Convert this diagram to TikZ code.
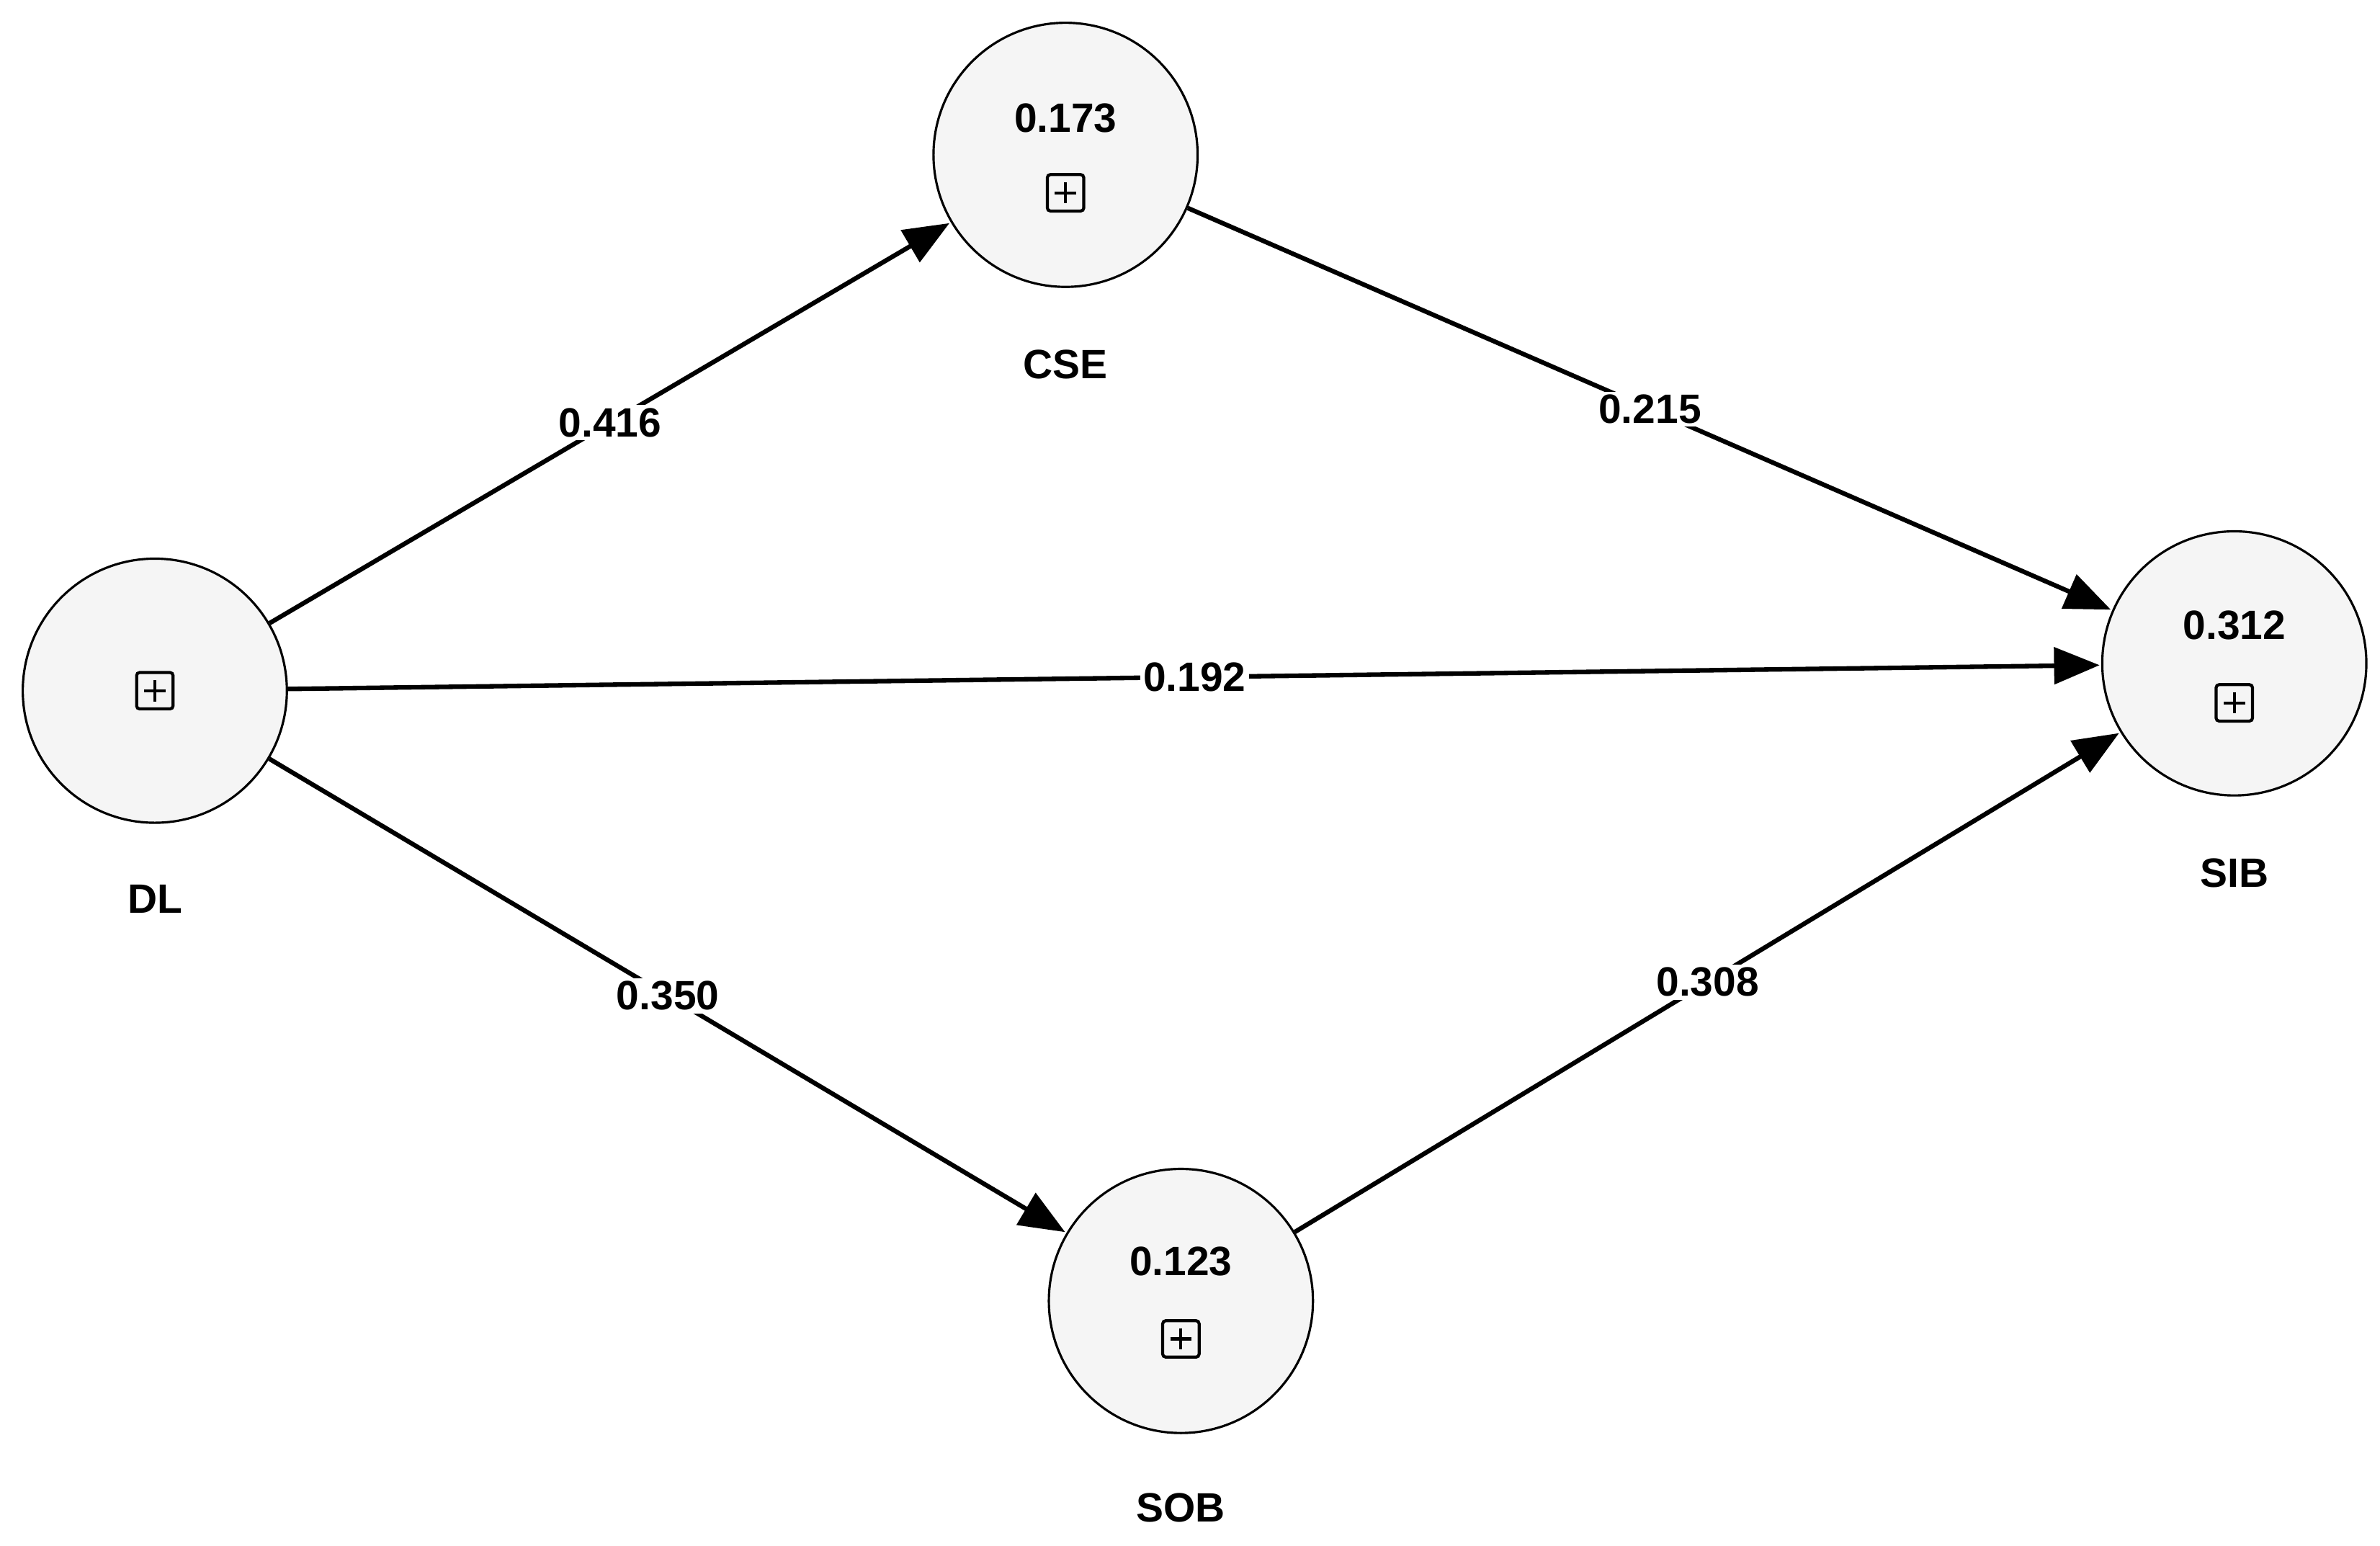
\documentclass[tikz,border=0pt]{standalone}
\usepackage{fontspec}
\setmainfont{Liberation Sans}
\usetikzlibrary{arrows.meta}
\begin{document}
\begin{tikzpicture}[x=1pt,y=1pt,
  lv/.style={circle,draw,line width=1.5pt,fill={rgb,255:red,245;green,245;blue,245},minimum size=174pt,inner sep=0pt},
  txt/.style={font=\fontsize{27}{30}\selectfont\bfseries},
  plusbox/.style={draw,line width=2pt,minimum size=24pt,inner sep=0pt,rounded corners=2pt,path picture={\draw[line width=2pt] (path picture bounding box.north)++(0,-5pt) -- ++(0,-14pt); \draw[line width=2pt] (path picture bounding box.west)++(5pt,0) -- ++(14pt,0);}},
  edge/.style={line width=3pt,-{Triangle[length=30pt,width=24pt]},shorten >=1pt},
  el/.style={txt,fill=white,inner sep=2pt}]
\useasboundingbox (0,0) rectangle (1568,-1018);
\node[lv] (CSE) at (702,-102) {};
\node[lv] (DL) at (102,-455) {};
\node[lv] (SIB) at (1472,-437) {};
\node[lv] (SOB) at (778,-857) {};
\node[txt] (cse) at (702,-78) {0.173};
\node[plusbox] (cseb) at (702,-127) {};
\node[plusbox] (dlb) at (102,-455) {};
\node[txt] (sib) at (1472,-412) {0.312};
\node[plusbox] (sibb) at (1472,-463) {};
\node[txt] (sob) at (778,-831) {0.123};
\node[plusbox] (sobb) at (778,-882) {};
\node[txt] (lcse) at (702,-240) {CSE};
\node[txt] (ldl) at (102,-592) {DL};
\node[txt] (lsib) at (1472,-575) {SIB};
\node[txt] (lsob) at (778,-993) {SOB};
\draw[edge] (DL) -- node[el]{0.416} (CSE);
\draw[edge] (CSE) -- node[el]{0.215} (SIB);
\draw[edge] (DL) -- node[el]{0.192} (SIB);
\draw[edge] (DL) -- node[el]{0.350} (SOB);
\draw[edge] (SOB) -- node[el]{0.308} (SIB);
\end{tikzpicture}
\end{document}
